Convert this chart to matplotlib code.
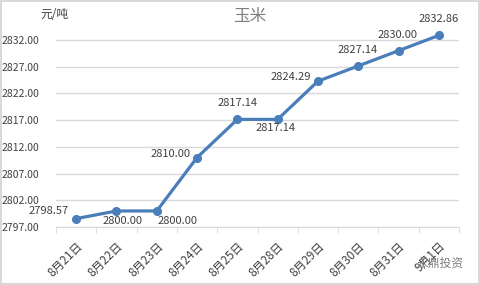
import matplotlib
matplotlib.use('Agg')
import matplotlib.pyplot as plt
import numpy as np

plt.rcParams['font.family'] = ['Noto Sans CJK SC', 'DejaVu Sans']

dates = ['8月21日', '8月22日', '8月23日', '8月24日', '8月25日',
         '8月28日', '8月29日', '8月30日', '8月31日', '9月1日']
prices = [2798.57, 2800.00, 2800.00, 2810.00, 2817.14,
          2817.14, 2824.29, 2827.14, 2830.00, 2832.86]
yticks = [2797, 2802, 2807, 2812, 2817, 2822, 2827, 2832]

# label offsets in pixels (dx, dy)
label_offsets = [(-28, 8), (6, -10), (21, -10), (-27, 4), (0, 16),
                 (-2, -9), (-27, 4), (-1, 16), (-1, 16), (0, 16)]

line_color = '#4a7ebb'
text_color = '#404040'

fig = plt.figure(figsize=(4.8, 2.85), dpi=100)
fig.patch.set_edgecolor('#d9d9d9')
fig.patch.set_linewidth(1.5)
ax = fig.add_axes([56 / 480, 1 - 227 / 285, (459 - 56) / 480, (227 - 29.3) / 285])

x = np.arange(len(dates))
ax.plot(x, prices, color=line_color, lw=2.3, marker='o', ms=5.5, zorder=3)

for xi, p, (dx, dy) in zip(x, prices, label_offsets):
    ax.annotate('%.2f' % p, (xi, p), xytext=(dx, dy), textcoords='offset pixels',
                ha='center', va='center', fontsize=8, color=text_color)

ax.set_xlim(-0.5, len(dates) - 0.5)
ax.set_ylim(2797, 2834)
ax.set_yticks(yticks)
ax.set_yticklabels(['%.2f' % v for v in yticks], fontsize=7.5, color=text_color)
ax.grid(axis='y', color='#d9d9d9', lw=1)
ax.set_axisbelow(True)

ax.set_xticks(x)
ax.set_xticklabels(dates, rotation=45, ha='right', rotation_mode='anchor',
                   fontsize=8.5, color=text_color)
ax.set_xticks(np.arange(-0.5, len(dates)), minor=True)
ax.tick_params(axis='x', which='major', length=0, pad=9)
ax.tick_params(axis='x', which='minor', length=4, color='#d9d9d9')
ax.tick_params(axis='y', length=0, pad=12)

for s in ['top', 'right', 'left']:
    ax.spines[s].set_visible(False)
ax.spines['bottom'].set_color('#d9d9d9')

fig.text(250 / 480, 1 - 17 / 285, '玉米', ha='center', va='center',
         fontsize=12, color='#7f7f7f', fontweight='light')
fig.text(40 / 480, 1 - 14 / 285, '元/吨', ha='left', va='center',
         fontsize=8.5, color=text_color)
fig.text(440 / 480, 1 - 263 / 285, '永鼎投资', ha='center', va='center',
         fontsize=8.5, color='#7f7f7f')

fig.savefig('out.png', dpi=100)
